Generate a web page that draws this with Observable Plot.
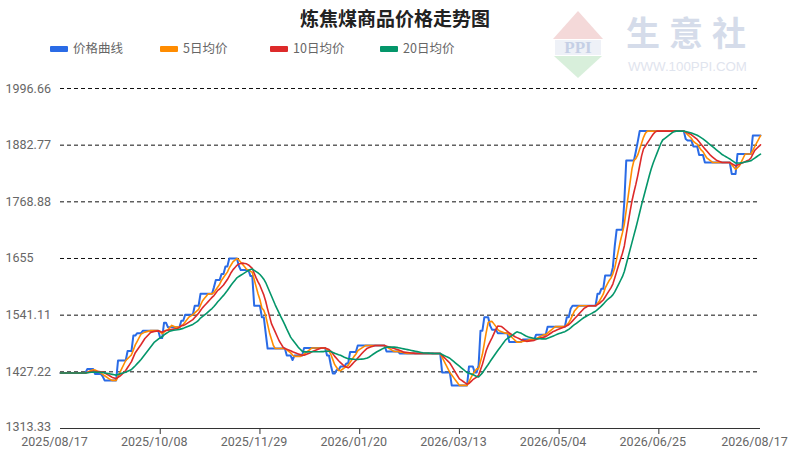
<!DOCTYPE html>
<html><head><meta charset="utf-8">
<script src="https://cdn.jsdelivr.net/npm/d3@7"></script>
<script src="https://cdn.jsdelivr.net/npm/@observablehq/plot@0.6"></script>
<style>
body{margin:0;background:#fff;font-family:"Noto Sans CJK SC","Noto Sans",sans-serif;}
#wrap{position:relative;width:790px;height:458px;overflow:hidden;background:#fff}
#header{position:relative;width:790px;height:70px}
#title{position:absolute;left:0;width:790px;top:5px;text-align:center;font-size:19px;font-weight:bold;color:#222;line-height:26px}
.leg{position:absolute;top:40px;height:16px;font-size:12.5px;color:#666;line-height:16px;white-space:nowrap}
.sw{display:inline-block;width:18px;height:6px;border-radius:1px;vertical-align:middle;margin-right:5px;position:relative;top:-1px}
#logo{position:absolute;left:550px;top:6px}
#chart svg{display:block}
</style></head>
<body><div id="wrap">
<div id="header">
  <svg id="logo" width="210" height="72">
    <polygon points="28,5 3,33 53,33" fill="#f4d9d9"/>
    <rect x="5" y="34" width="46" height="15" fill="#eef1f7"/>
    <text x="28" y="47" text-anchor="middle" font-family="Liberation Serif,serif" font-weight="bold" font-size="17" fill="#c5cfe5">PPI</text>
    <polygon points="4,50 52,50 28,72" fill="#d8efdb"/>
    <text x="76" y="40" font-family="Noto Sans CJK SC" font-weight="bold" font-size="34" letter-spacing="9" fill="#d5dcea">生意社</text>
    <text x="78" y="65" font-family="Liberation Sans,Arial" font-size="13.3" fill="#dfe4ee">WWW.100PPI.COM</text>
  </svg>
  <div id="title">炼焦煤商品价格走势图</div>
  <div id="legend"></div>
</div>
<div id="chart"></div>
</div>
<script>
// ---- data ----
const changeDates = [
  "2025-08-17","2025-08-31","2025-09-04","2025-09-08","2025-09-09","2025-09-16","2025-09-21","2025-09-24","2025-09-26","2025-09-29",
  "2025-10-08","2025-10-10","2025-10-12","2025-10-19","2025-10-21","2025-10-26","2025-10-29","2025-11-05","2025-11-06","2025-11-09",
  "2025-11-11","2025-11-13","2025-11-18","2025-11-19","2025-11-24","2025-11-26","2025-11-30","2025-12-02","2025-12-03","2025-12-13",
  "2025-12-16","2025-12-17","2025-12-22","2026-01-03","2026-01-05","2026-01-06","2026-01-08","2026-01-10","2026-01-13","2026-01-15",
  "2026-01-19","2026-02-03","2026-02-10","2026-03-04","2026-03-09","2026-03-18","2026-03-21","2026-03-23","2026-03-24","2026-03-26",
  "2026-03-29","2026-03-30","2026-04-02","2026-04-08","2026-04-15","2026-04-22","2026-04-28","2026-05-08","2026-05-10","2026-05-11",
  "2026-05-24","2026-05-26","2026-05-28","2026-06-01","2026-06-02","2026-06-03","2026-06-07","2026-06-08","2026-06-13","2026-06-14",
  "2026-06-15","2026-07-09","2026-07-10","2026-07-13","2026-07-16","2026-07-19","2026-08-02","2026-08-05","2026-08-13"
];
const changePrices = [
  1425,1433,1423,1418,1410,1450,1469,1500,1505,1510,
  1495,1526,1517,1530,1542,1560,1584,1597,1612,1624,
  1639,1655,1640,1632,1620,1560,1537,1505,1474,1460,
  1451,1460,1475,1460,1440,1424,1431,1438,1444,1467,
  1480,1468,1464,1426,1400,1438,1426,1440,1510,1537,
  1520,1512,1505,1487,1492,1502,1518,1537,1554,1560,
  1584,1594,1621,1637,1680,1713,1770,1852,1870,1890,
  1911,1895,1892,1880,1863,1848,1825,1865,1902
];
const maWindows = [5, 10, 20];
const seriesNames = ["价格曲线", "5日均价", "10日均价", "20日均价"];
const seriesColors = ["#2a6be6", "#ff8c00", "#dd2a2a", "#04966a"];
const yTickValues = [1313.33, 1427.22, 1541.11, 1655, 1768.88, 1882.77, 1996.66];
const yTickLabels = ["1313.33", "1427.22", "1541.11", "1655", "1768.88", "1882.77", "1996.66"];
const xTickLabels = ["2025/08/17", "2025/10/08", "2025/11/29", "2026/01/20", "2026/03/13", "2026/05/04", "2026/06/25", "2026/08/17"];
const legendLeft = [50, 160, 270, 380];

// ---- build daily table ----
const parse = d3.utcParse("%Y-%m-%d");
const parseTick = d3.utcParse("%Y/%m/%d");
const fmtTick = d3.utcFormat("%Y/%m/%d");
const start = parse("2025-08-17"), end = parse("2026-08-17");
const cps = changeDates.map((d, i) => ({date: parse(d), price: changePrices[i]}));
const rows = d3.utcDay.range(start, d3.utcDay.offset(end, 1)).map(day => {
  let p;
  for (const c of cps) if (c.date <= day) p = c.price;
  return {date: day, price: p};
});
const xTickDates = xTickLabels.map(parseTick);
const innerTicks = xTickDates.slice(1, -1);
const yLabelRows = yTickValues.map((v, i) => ({v, label: yTickLabels[i]}));

// ---- legend ----
const leg = document.getElementById("legend");
seriesNames.forEach((n, i) => {
  const el = document.createElement("div");
  el.className = "leg";
  el.style.left = legendLeft[i] + "px";
  el.innerHTML = `<span class="sw" style="background:${seriesColors[i]}"></span>${n}`;
  leg.appendChild(el);
});

// ---- chart ----
const axisFont = 'Roboto,"Noto Sans",sans-serif';
const yText = {y: "v", text: "label", frameAnchor: "left", dx: -55, textAnchor: "start", fill: "#666", fontSize: 12.5, fontFamily: axisFont};
const chart = Plot.plot({
  width: 790, height: 388,
  marginTop: 18, marginBottom: 30, marginLeft: 60, marginRight: 30,
  style: {fontFamily: axisFont, fontSize: "12.5px", color: "#666", background: "#fff", overflow: "visible"},
  x: {type: "utc", domain: [start, end]},
  y: {domain: [yTickValues[0], yTickValues[yTickValues.length - 1]], axis: null},
  marks: [
    Plot.ruleY(yTickValues.slice(1), {stroke: "#111", strokeDasharray: "4,3", strokeWidth: 1}),
    Plot.ruleY([yTickValues[0]], {stroke: "#333", strokeWidth: 1}),
    Plot.axisX(innerTicks, {tickSize: 6, tickFormat: () => "", stroke: "#333", label: null}),
    Plot.text(xTickDates, {x: d => d, text: d => fmtTick(d), frameAnchor: "bottom", dy: 17, dx: -6, fill: "#666", fontSize: 12.5, fontFamily: axisFont}),
    Plot.text(yLabelRows.slice(1), yText),
    Plot.text(yLabelRows.slice(0, 1), {...yText, dy: -2}),
    Plot.lineY(rows, {x: "date", y: "price", stroke: seriesColors[0], strokeWidth: 2}),
    ...maWindows.map((k, i) => Plot.lineY(rows, Plot.windowY({k, anchor: "end", reduce: "mean"}, {x: "date", y: "price", stroke: seriesColors[i + 1], strokeWidth: 1.6})))
  ]
});
document.getElementById("chart").appendChild(chart);
</script>
</body></html>
